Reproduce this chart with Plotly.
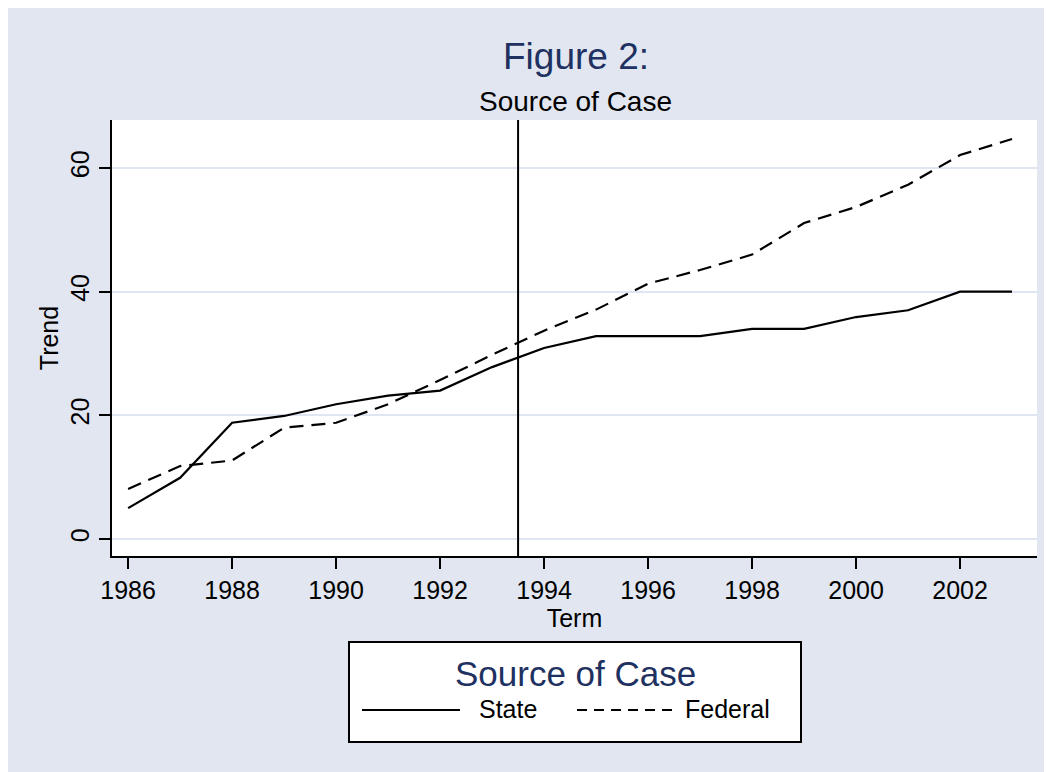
import plotly.graph_objects as go

# ---------------- data ----------------
terms = list(range(1986, 2004))
state = [5.0, 9.9, 18.8, 19.9, 21.8, 23.2, 24.0, 27.8, 30.9, 32.8,
         32.8, 32.8, 34.0, 34.0, 35.9, 37.0, 40.0, 40.0]
federal = [8.1, 11.8, 12.7, 18.0, 18.8, 21.8, 25.7, 29.8, 33.7, 37.1,
           41.3, 43.5, 46.0, 51.1, 53.7, 57.3, 62.1, 64.7]
reference_term = 1993.5
x_ticks = [1986, 1988, 1990, 1992, 1994, 1996, 1998, 2000, 2002]
y_ticks = [0, 20, 40, 60]

# ---------------- layout helpers ----------------
OFF = 8                      # page body margin
W, H = 1044, 764
ML, MR, MT, MB = 104, 15, 112, 216
PW, PH = W - ML - MR, H - MT - MB


def xp(px):
    """screen x (page pixel) -> paper fraction"""
    return (px - OFF - ML) / PW


def yp(py):
    """screen y (page pixel) -> paper fraction"""
    return (H - MB - (py - OFF)) / PH


NAVY = "#1e3160"
FONT = "Liberation Sans, Arial, sans-serif"

fig = go.Figure()
fig.add_trace(go.Scatter(x=terms, y=state, mode="lines", name="State",
                         line=dict(color="black", width=2.2), showlegend=False))
fig.add_trace(go.Scatter(x=terms, y=federal, mode="lines", name="Federal",
                         line=dict(color="black", width=2.2, dash="14px,8px"),
                         showlegend=False))

shapes = [
    # vertical reference line
    dict(type="line", xref="x", yref="paper", x0=reference_term, x1=reference_term,
         y0=0, y1=1, line=dict(color="black", width=2)),
    # legend box
    dict(type="rect", xref="paper", yref="paper", x0=xp(349), x1=xp(801),
         y0=yp(742), y1=yp(642), fillcolor="white", line=dict(color="black", width=2)),
    dict(type="line", xref="paper", yref="paper", x0=xp(362), x1=xp(460),
         y0=yp(710), y1=yp(710), line=dict(color="black", width=2)),
    dict(type="line", xref="paper", yref="paper", x0=xp(577), x1=xp(676),
         y0=yp(710), y1=yp(710), line=dict(color="black", width=2, dash="10px,7px")),
]

annotations = [
    dict(text="Figure 2:", xref="paper", yref="paper", x=xp(576), y=yp(56),
         xanchor="center", yanchor="middle", showarrow=False,
         font=dict(family=FONT, size=37, color=NAVY)),
    dict(text="Source of Case", xref="paper", yref="paper", x=xp(575), y=yp(102),
         xanchor="center", yanchor="middle", showarrow=False,
         font=dict(family=FONT, size=28, color="black")),
    dict(text="Source of Case", xref="paper", yref="paper", x=xp(575), y=yp(673),
         xanchor="center", yanchor="middle", showarrow=False,
         font=dict(family=FONT, size=35, color=NAVY)),
    dict(text="State", xref="paper", yref="paper", x=xp(477), y=yp(709),
         xanchor="left", yanchor="middle", showarrow=False,
         font=dict(family=FONT, size=25, color="black")),
    dict(text="Federal", xref="paper", yref="paper", x=xp(683), y=yp(709),
         xanchor="left", yanchor="middle", showarrow=False,
         font=dict(family=FONT, size=25, color="black")),
]

fig.update_layout(
    width=W, height=H,
    margin=dict(l=ML, r=MR, t=MT, b=MB, pad=0),
    paper_bgcolor="#e1e6f0",
    plot_bgcolor="white",
    font=dict(family=FONT, size=25, color="black"),
    shapes=shapes,
    annotations=annotations,
    showlegend=False,
    xaxis=dict(
        range=[1985.69, 2003.48], tickmode="array", tickvals=x_ticks,
        ticktext=[str(t) for t in x_ticks],
        showgrid=False, zeroline=False,
        showline=True, linecolor="black", linewidth=2,
        ticks="outside", ticklen=11, tickwidth=2, tickcolor="black",
        tickfont=dict(family=FONT, size=25, color="black"),
        title=dict(text="Term", font=dict(family=FONT, size=25, color="black"), standoff=2),
    ),
    yaxis=dict(
        range=[-2.75, 67.77], tickmode="array", tickvals=y_ticks,
        ticktext=[str(t) for t in y_ticks], tickangle=-90,
        showgrid=True, gridcolor="#e0e6f1", gridwidth=2, zeroline=False,
        showline=True, linecolor="black", linewidth=2,
        ticks="outside", ticklen=11, tickwidth=2, tickcolor="black",
        tickfont=dict(family=FONT, size=25, color="black"),
        title=dict(text="Trend", font=dict(family=FONT, size=25, color="black"), standoff=0),
    ),
)

fig.write_html("out.html")
